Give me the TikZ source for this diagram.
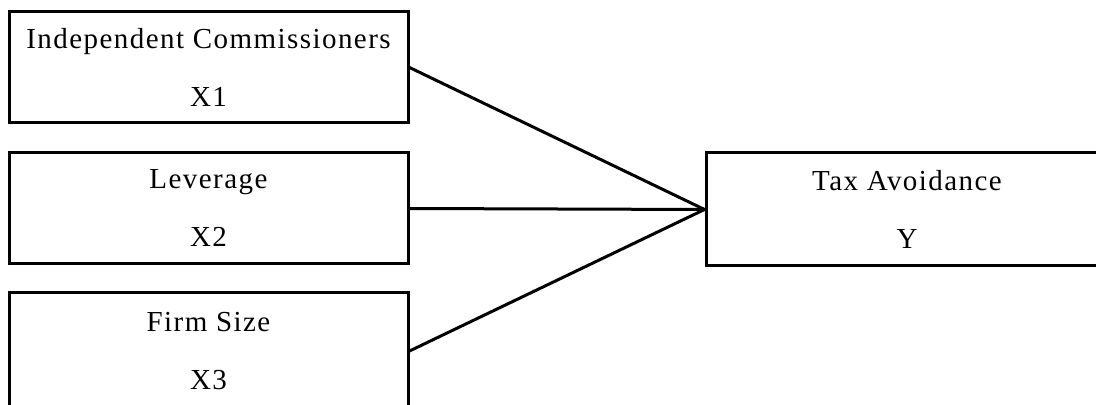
\documentclass[tikz,border=0pt]{standalone}
\usepackage{fontspec}
\setmainfont[LetterSpace=5]{Liberation Serif}
\begin{document}
\begin{tikzpicture}[x=0.5pt, y=-0.5pt, line width=1.5pt, var node/.style={rectangle,draw,minimum width=199.5pt,minimum height=55.5pt,inner sep=0pt,align=center,font=\fontsize{14.5}{29}\selectfont}]
\useasboundingbox (0,0) rectangle (1096,405);
\clip (0,0) rectangle (1096,405);
\begin{scope}
\node[var node] (x1) at (208.5,67.5) {Independent Commissioners\\X1};
\node[var node] (x2) at (208.5,208.5) {Leverage\\X2};
\node[var node, minimum height=58pt] (x3) at (208.5,351) {Firm Size\\X3};
\node[var node, minimum width=201pt, minimum height=56.5pt] (y) at (907,209.5) {Tax Avoidance\\Y};
\end{scope}
\begin{scope}
\draw (x1.east) -- (y.west);
\draw (x2.east) -- (y.west);
\draw (x3.east) -- (y.west);
\end{scope}
\end{tikzpicture}
\end{document}
